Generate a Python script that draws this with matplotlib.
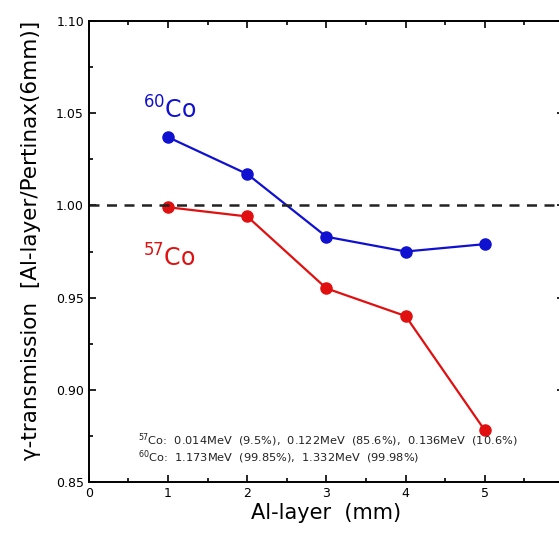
import matplotlib
matplotlib.use("Agg")
import matplotlib.pyplot as plt
from matplotlib.ticker import MultipleLocator, FormatStrFormatter

# Data
layers = [1, 2, 3, 4, 5]
co60 = [1.037, 1.017, 0.983, 0.975, 0.979]
co57 = [0.999, 0.994, 0.955, 0.940, 0.878]

plt.rcParams['font.family'] = ['DejaVu Sans']

fig = plt.figure(figsize=(5.59, 5.38), dpi=100)
# right spine sits just outside the image, as in the cropped original
ax = fig.add_axes([0.159, 0.104, 0.85, 0.857])

ax.plot(layers, co60, color='#1010d0', lw=1.6, marker='o', ms=8)
ax.plot(layers, co57, color='#e01010', lw=1.6, marker='o', ms=8)
ax.axhline(1.0, color='#222222', lw=1.8, ls=(0, (4, 3)))

ax.set_xlim(0, 6)
ax.set_ylim(0.85, 1.10)
ax.set_xticks([0, 1, 2, 3, 4, 5])
ax.xaxis.set_minor_locator(MultipleLocator(0.5))
ax.yaxis.set_major_locator(MultipleLocator(0.05))
ax.yaxis.set_minor_locator(MultipleLocator(0.025))
ax.yaxis.set_major_formatter(FormatStrFormatter('%.2f'))
ax.tick_params(which='both', direction='in', top=True, right=True, width=1.2)
ax.tick_params(which='major', length=5, labelsize=9)
ax.tick_params(which='minor', length=3)
for s in ax.spines.values():
    s.set_linewidth(1.4)

ax.set_xlabel('Al-layer  (mm)', fontsize=15, labelpad=2)
ax.set_ylabel('γ-transmission  [Al-layer/Pertinax(6mm)]', fontsize=15.5, labelpad=2)
ax.yaxis.set_label_coords(-0.1, 0.525)

ax.text(0.68, 1.047, r'$^{\mathregular{60}}$Co', color='#1010d0', fontsize=17)
ax.text(0.68, 0.967, r'$^{\mathregular{57}}$Co', color='#e01010', fontsize=17)

ax.text(0.62, 0.8705, r'$^{57}$Co:  0.014MeV  (9.5%),  0.122MeV  (85.6%),  0.136MeV  (10.6%)',
        fontsize=8.2, color='#222222')
ax.text(0.62, 0.8615, r'$^{60}$Co:  1.173MeV  (99.85%),  1.332MeV  (99.98%)',
        fontsize=8.2, color='#222222')

fig.savefig('out.png', dpi=100)
